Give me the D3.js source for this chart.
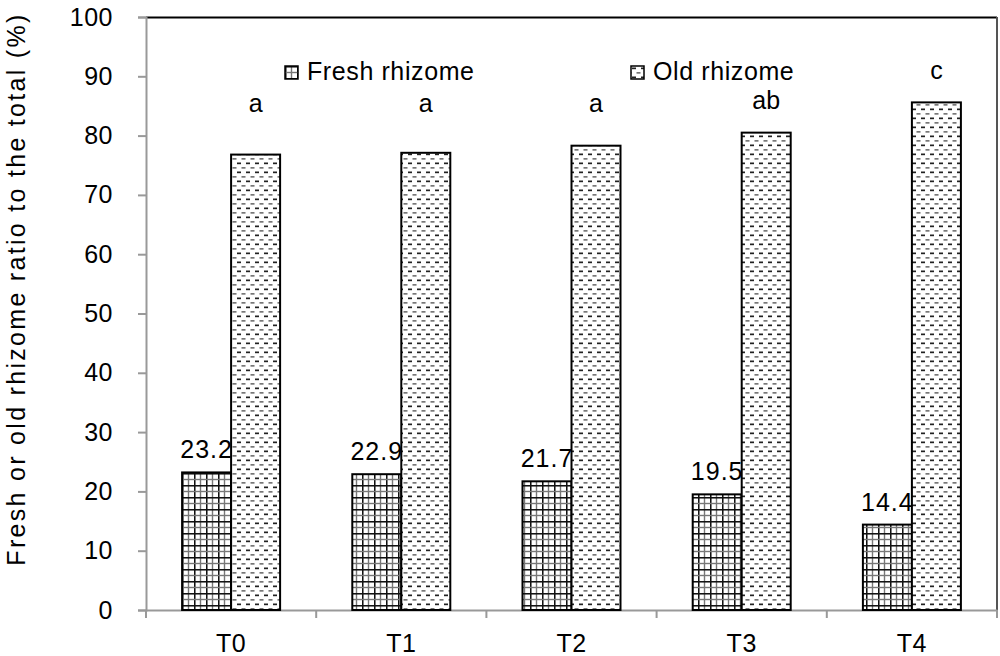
<!DOCTYPE html>
<html>
<head>
<meta charset="utf-8">
<script src="https://cdn.jsdelivr.net/npm/d3@7"></script>
<style>
  body { margin: 0; background: #fff; }
  text { font-family: "Liberation Sans", Arial, sans-serif; fill: #000; }
</style>
</head>
<body>
<div id="chart"></div>
<script>
var treatments = ["T0", "T1", "T2", "T3", "T4"],
    freshValues = [23.2, 22.9, 21.7, 19.5, 14.4],
    oldValues = [76.8, 77.1, 78.3, 80.5, 85.6],
    oldLetters = ["a", "a", "a", "ab", "c"],
    yTicks = [0, 10, 20, 30, 40, 50, 60, 70, 80, 90, 100],
    seriesNames = ["Fresh rhizome", "Old rhizome"];

var margin = { top: 17, right: 3, bottom: 46, left: 146 },
    width = 1000 - margin.left - margin.right,
    height = 656 - margin.top - margin.bottom;

var svg = d3.select("#chart").append("svg")
    .attr("width", 1000)
    .attr("height", 656);

// patterns
var defs = svg.append("defs");
var grid = defs.append("pattern")
    .attr("id", "grid")
    .attr("patternUnits", "userSpaceOnUse")
    .attr("width", 12).attr("height", 12);
grid.append("rect").attr("width", 12).attr("height", 12).attr("fill", "#fff");
grid.append("line").attr("x1", 0.75).attr("x2", 0.75).attr("y1", 0).attr("y2", 12).attr("stroke", "#111").attr("stroke-width", 1.6);
grid.append("line").attr("x1", 6.5).attr("x2", 6.5).attr("y1", 0).attr("y2", 12).attr("stroke", "#777").attr("stroke-width", 1.4);
grid.append("line").attr("y1", 0.75).attr("y2", 0.75).attr("x1", 0).attr("x2", 12).attr("stroke", "#111").attr("stroke-width", 1.6);
grid.append("line").attr("y1", 6.5).attr("y2", 6.5).attr("x1", 0).attr("x2", 12).attr("stroke", "#777").attr("stroke-width", 1.4);

var dash = defs.append("pattern")
    .attr("id", "dash")
    .attr("patternUnits", "userSpaceOnUse")
    .attr("width", 9).attr("height", 9);
dash.append("rect").attr("width", 9).attr("height", 9).attr("fill", "#fff");
dash.append("rect").attr("x", 1).attr("y", 1.5).attr("width", 4).attr("height", 1.7).attr("fill", "#222");
dash.append("rect").attr("x", 5.5).attr("y", 6).attr("width", 4).attr("height", 1.7).attr("fill", "#777");
dash.append("rect").attr("x", -3.5).attr("y", 6).attr("width", 4).attr("height", 1.7).attr("fill", "#777");

var fills = ["url(#grid)", "url(#dash)"];

var g = svg.append("g")
    .attr("transform", "translate(" + margin.left + "," + margin.top + ")");

var x = d3.scaleBand().domain(treatments).range([0, width]);
var y = d3.scaleLinear().domain([0, 100]).range([height, 0]);
var barW = 49;

// frame: top black, right dark
g.append("line").attr("x1", 0).attr("x2", width).attr("y1", 0.5).attr("y2", 0.5)
    .attr("stroke", "#000").attr("stroke-width", 2);
g.append("line").attr("x1", width).attr("x2", width).attr("y1", 0).attr("y2", height)
    .attr("stroke", "#555").attr("stroke-width", 2);

// y axis
var yAxis = g.append("g")
    .call(d3.axisLeft(y).tickValues(yTicks).tickSize(8).tickPadding(25));
yAxis.select(".domain").attr("stroke", "#999").attr("stroke-width", 2);
yAxis.selectAll(".tick line").attr("stroke", "#999").attr("stroke-width", 2);
yAxis.selectAll("text").style("font-size", "25px").style("letter-spacing", "0.5px")
    .style("font-family", "Liberation Sans, Arial, sans-serif").attr("fill", "#000");

// x axis with ticks at category boundaries
var xAxis = g.append("g").attr("transform", "translate(0," + height + ")")
    .call(d3.axisBottom(x).tickSize(0).tickPadding(24));
xAxis.select(".domain").attr("stroke", "#999").attr("stroke-width", 2);
xAxis.selectAll("text").style("font-size", "25px").style("letter-spacing", "0.5px")
    .style("font-family", "Liberation Sans, Arial, sans-serif").attr("fill", "#000");
g.selectAll(".xb").data(d3.range(treatments.length + 1)).enter().append("line")
    .attr("x1", function(i) { return i * x.step(); })
    .attr("x2", function(i) { return i * x.step(); })
    .attr("y1", height).attr("y2", height + 8)
    .attr("stroke", "#999").attr("stroke-width", 2);

// bars
var series = [freshValues, oldValues];
series.forEach(function(vals, s) {
  g.selectAll(".bar" + s).data(vals).enter().append("rect")
      .attr("class", "bar" + s)
      .attr("x", function(d, i) { return x(treatments[i]) + x.bandwidth() / 2 - barW + s * barW; })
      .attr("y", function(d) { return y(d); })
      .attr("width", barW)
      .attr("height", function(d) { return height - y(d); })
      .attr("fill", fills[s])
      .attr("stroke", "#000")
      .attr("stroke-width", 2);
});

// fresh value labels
g.selectAll(".flab").data(freshValues).enter().append("text")
    .attr("x", function(d, i) { return x(treatments[i]) + x.bandwidth() / 2 - barW / 2; })
    .attr("y", function(d) { return y(d) - 14; })
    .attr("text-anchor", "middle")
    .style("font-size", "25px").style("letter-spacing", "1px")
    .text(function(d) { return d.toFixed(1); });

// letters above old bars
g.selectAll(".olab").data(oldValues).enter().append("text")
    .attr("x", function(d, i) { return x(treatments[i]) + x.bandwidth() / 2 + barW / 2; })
    .attr("y", function(d) { return y(Math.max(d + 4, 84)); })
    .attr("text-anchor", "middle")
    .style("font-size", "25px")
    .text(function(d, i) { return oldLetters[i]; });

// legend
var legX = [285, 631];
var leg = svg.selectAll(".leg").data(seriesNames).enter().append("g")
    .attr("transform", function(d, i) { return "translate(" + legX[i] + ",66)"; });
leg.append("rect").attr("width", 13).attr("height", 13)
    .attr("fill", function(d, i) { return fills[i]; })
    .attr("stroke", "#000").attr("stroke-width", 1.5);
leg.append("text").attr("x", 22).attr("y", 14)
    .style("font-size", "25px").style("letter-spacing", "0.6px")
    .text(function(d) { return d; });

// y title
svg.append("text")
    .attr("transform", "translate(25,289) rotate(-90)")
    .attr("text-anchor", "middle")
    .style("font-size", "25px").style("letter-spacing", "2.3px")
    .text("Fresh or old rhizome ratio to the total (%)");
</script>
</body>
</html>
